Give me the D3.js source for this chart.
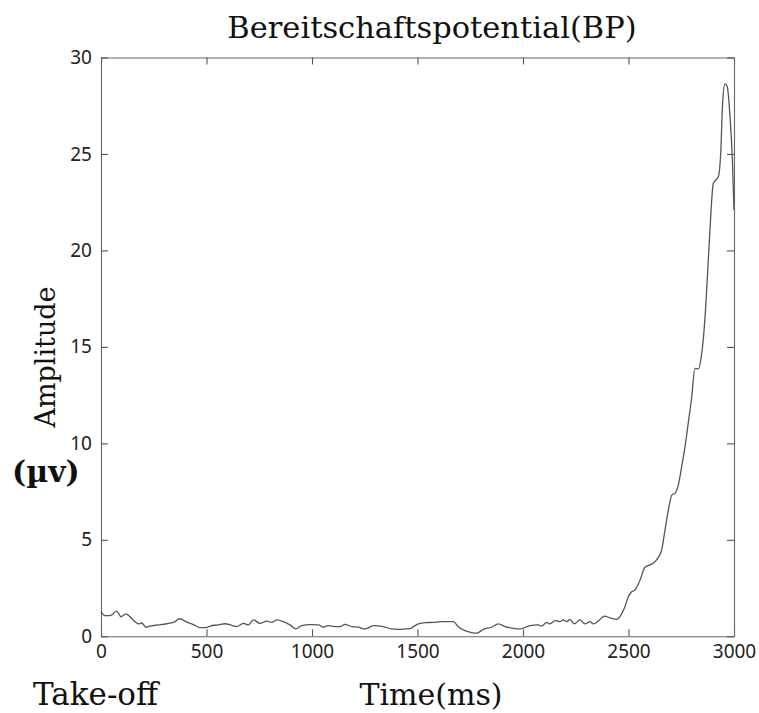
<!DOCTYPE html>
<html>
<head>
<meta charset="utf-8">
<script src="https://cdn.jsdelivr.net/npm/d3@7"></script>
<style>
  html,body{margin:0;padding:0;background:#fff;}
  .tick text{font-family:"Noto Sans",sans-serif;font-size:19px;fill:#222;}
  .lbl{font-family:"DejaVu Serif",serif;fill:#111;}
</style>
</head>
<body>
<div id="chart"></div>
<script>
// readings: time (ms) and amplitude (µv)
var timeMs=[0,19,43,74,95,117,137,161,180,193,213,232,272,311,351,371,390,414,445,469,498,517,556,588,619,643,675,698,722,754,785,809,833,864,896,924,951,990,
  1030,1054,1077,1109,1133,1156,1188,1219,1251,1291,1338,1378,1409,1464,1480,1504,1536,1575,1614,1670,1693,1725,1757,1780,1812,1851,1883,1915,1954,1986,
  2033,2072,2088,2112,2128,2152,2175,2191,2207,2223,2243,2270,2294,2318,2333,2357,2385,2412,2444,2464,2483,2499,2515,2531,2555,2578,2602,2626,2641,2657,
  2673,2689,2705,2720,2736,2752,2768,2783,2799,2815,2831,2847,2863,2874,2886,2902,2915,2926,2937,2946,2957,2968,2981,2993,3000];
var amplitude=[1.27,1.07,1.07,1.31,1.02,1.16,1.02,0.76,0.64,0.69,0.47,0.53,0.59,0.65,0.76,0.91,0.83,0.71,0.57,0.45,0.45,0.53,0.59,0.65,0.57,0.50,0.67,0.59,0.85,0.67,0.79,0.72,0.85,0.76,0.59,0.38,0.55,0.60,
  0.59,0.47,0.55,0.50,0.50,0.62,0.50,0.47,0.38,0.55,0.50,0.38,0.36,0.40,0.50,0.64,0.71,0.72,0.76,0.76,0.50,0.29,0.19,0.16,0.36,0.47,0.64,0.50,0.41,0.38,
  0.55,0.59,0.53,0.72,0.64,0.81,0.76,0.85,0.76,0.88,0.64,0.85,0.64,0.76,0.64,0.79,1.05,0.96,0.88,1.10,1.53,2.05,2.31,2.40,2.92,3.58,3.70,3.87,4.09,4.47,
  5.51,6.55,7.32,7.41,7.84,8.79,9.83,11.04,12.34,13.89,13.86,14.67,16.57,18.64,21.06,23.48,23.66,23.83,25.04,27.63,28.63,28.49,26.94,24.52,22.10];
var xTicks=[0,500,1000,1500,2000,2500,3000];
var yTicks=[0,5,10,15,20,25,30];

var W=759,H=713, L=101,R=734,T=57.5,B=636.3;
var svg=d3.select("#chart").append("svg").attr("width",W).attr("height",H);

var x=d3.scaleLinear().domain([0,3000]).range([L,R]);
var y=d3.scaleLinear().domain([0,30]).range([B,T]);
var fmt=d3.format("d");

function styleAxis(g){
  g.selectAll("path.domain").attr("stroke","#666").attr("stroke-width",1.1).attr("fill","none");
  g.selectAll(".tick line").attr("stroke","#555").attr("stroke-width",1.1);
}

// bottom / left carry the labels, top / right only mirror the inward ticks
svg.append("g").attr("transform","translate(0,"+B+")")
  .call(d3.axisBottom(x).tickValues(xTicks).tickFormat(fmt).tickSize(-7).tickSizeOuter(0).tickPadding(8)).call(styleAxis);
svg.append("g").attr("transform","translate(0,"+T+")")
  .call(d3.axisTop(x).tickValues(xTicks).tickSize(-7).tickSizeOuter(0).tickFormat("")).call(styleAxis);
svg.append("g").attr("transform","translate("+L+",0)")
  .call(d3.axisLeft(y).tickValues(yTicks).tickFormat(fmt).tickSize(-7).tickSizeOuter(0).tickPadding(9)).call(styleAxis);
svg.append("g").attr("transform","translate("+R+",0)")
  .call(d3.axisRight(y).tickValues(yTicks).tickSize(-7).tickSizeOuter(0).tickFormat("")).call(styleAxis);

var line=d3.line().x(function(d,i){return x(timeMs[i]);}).y(function(d){return y(d);}).curve(d3.curveMonotoneX);
svg.append("path").datum(amplitude).attr("d",line)
  .attr("fill","none").attr("stroke","#555").attr("stroke-width",1.3);

// labels
svg.append("text").attr("class","lbl").attr("x",432).attr("y",38).attr("text-anchor","middle")
  .style("font-size","30.5px").text("Bereitschaftspotential(BP)");
svg.append("text").attr("class","lbl").attr("transform","translate(55,357) rotate(-90)").attr("text-anchor","middle")
  .style("font-size","27px").text("Amplitude");
svg.append("text").attr("class","lbl").attr("x",12).attr("y",482)
  .style("font-size","30px").style("font-weight","bold").text("(µv)");
svg.append("text").attr("class","lbl").attr("x",33).attr("y",705)
  .style("font-size","31px").text("Take-off");
svg.append("text").attr("class","lbl").attr("x",431).attr("y",705).attr("text-anchor","middle")
  .style("font-size","30px").text("Time(ms)");
</script>
</body>
</html>
